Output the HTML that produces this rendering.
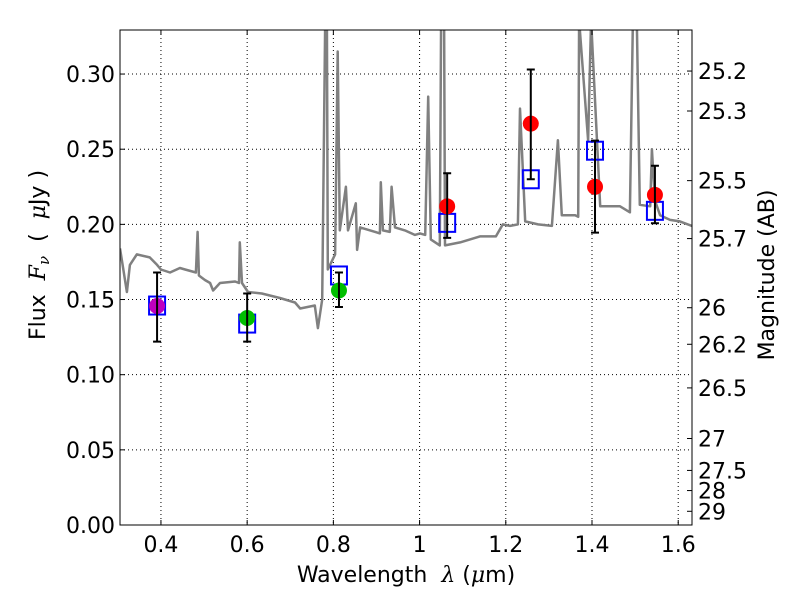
<!DOCTYPE html>
<html><head><meta charset="utf-8"><style>
body{margin:0;background:#fff;}
svg text{font-family:"DejaVu Sans","Liberation Sans",sans-serif;fill:#000;}
</style></head><body>
<svg id="chart" width="800" height="600" xmlns="http://www.w3.org/2000/svg">
<g id="grid"></g>
<g id="spec"></g>
<g id="pts"></g>
<g id="axes"></g>
</svg>
<script>
const specWave=[0.305,0.321,0.328,0.344,0.374,0.391,0.400,0.421,0.444,0.456,0.481,0.485,0.488,0.502,0.514,0.521,0.537,0.572,0.581,0.583,0.588,0.602,0.634,0.676,0.711,0.723,0.757,0.764,0.774,0.781,0.785,0.787,0.804,0.810,0.815,0.829,0.834,0.852,0.855,0.862,0.897,0.908,0.910,0.915,0.931,0.935,0.943,0.966,0.989,1.001,1.013,1.020,1.026,1.047,1.050,1.057,1.059,1.094,1.140,1.177,1.193,1.210,1.228,1.233,1.245,1.275,1.307,1.321,1.330,1.361,1.368,1.370,1.391,1.398,1.419,1.465,1.488,1.495,1.504,1.511,1.535,1.539,1.546,1.558,1.581,1.604,1.632];
const specFlux=[0.184,0.155,0.173,0.180,0.178,0.173,0.170,0.168,0.171,0.170,0.168,0.195,0.166,0.163,0.161,0.156,0.161,0.162,0.161,0.188,0.161,0.155,0.154,0.151,0.148,0.144,0.146,0.131,0.150,0.336,0.336,0.170,0.180,0.315,0.196,0.225,0.196,0.214,0.183,0.198,0.195,0.194,0.228,0.196,0.195,0.225,0.198,0.196,0.193,0.194,0.193,0.285,0.190,0.186,0.336,0.336,0.186,0.188,0.192,0.192,0.200,0.199,0.200,0.277,0.202,0.200,0.199,0.256,0.206,0.206,0.205,0.336,0.256,0.336,0.212,0.212,0.208,0.336,0.336,0.213,0.212,0.250,0.216,0.206,0.203,0.202,0.199];
const ptWave=[0.391,0.600,0.813,1.064,1.258,1.407,1.546];
const ptFlux=[0.1457,0.1377,0.156,0.212,0.267,0.225,0.2196];
const errLo=[0.122,0.122,0.145,0.191,0.230,0.1945,0.2007];
const errHi=[0.168,0.154,0.168,0.234,0.303,0.2557,0.239];
const modelFlux=[0.146,0.134,0.166,0.201,0.230,0.249,0.209];
const ptColors=['#bf00bf','#00bf00','#00bf00','#ff0000','#ff0000','#ff0000','#ff0000'];
const xTicks=[0.4,0.6,0.8,1.0,1.2,1.4,1.6];
const xTickLabels=['0.4','0.6','0.8','1','1.2','1.4','1.6'];
const yTicks=[0,0.05,0.10,0.15,0.20,0.25,0.30];
const yTickLabels=['0.00','0.05','0.10','0.15','0.20','0.25','0.30'];
const magTicks=[25.2,25.3,25.5,25.7,26,26.2,26.5,27,27.5,28,29];
const magTickLabels=['25.2','25.3','25.5','25.7','26','26.2','26.5','27','27.5','28','29'];

const L=120,R=692,T=30,B=525,X0=0.305,X1=1.632,Y0=0,Y1=0.3293;
const sx=v=>L+(v-X0)/(X1-X0)*(R-L);
const sy=v=>B-(v-Y0)/(Y1-Y0)*(B-T);
const NS='http://www.w3.org/2000/svg';
function mk(parent,tag,attrs){const e=document.createElementNS(NS,tag);for(const k in attrs)e.setAttribute(k,attrs[k]);document.getElementById(parent).appendChild(e);return e;}

xTicks.forEach((t,i)=>{
  const x=sx(t);
  let g=mk('grid','line',{x1:x,x2:x,y1:T,y2:B,stroke:'#000','stroke-width':1,'stroke-dasharray':'1,3'});
  
  
  mk('axes','line',{x1:x,x2:x,y1:B,y2:B-5,stroke:'#000'});
  mk('axes','line',{x1:x,x2:x,y1:T,y2:T+5,stroke:'#000'});
  let tx=mk('axes','text',{x:x,y:552,'font-size':22,'text-anchor':'middle'});
  tx.textContent=xTickLabels[i];
  
  
});
yTicks.forEach((t,i)=>{
  const y=sy(t);
  if(t>0){let g=mk('grid','line',{x1:L,x2:R,y1:y,y2:y,stroke:'#000','stroke-width':1,'stroke-dasharray':'1,3'});
  
  }
  mk('axes','line',{x1:L,x2:L+5,y1:y,y2:y,stroke:'#000'});
  let tx=mk('axes','text',{x:115,y:y+8,'font-size':22,'text-anchor':'end'});
  tx.textContent=yTickLabels[i];
  
  
});
magTicks.forEach((m,i)=>{
  const f=Math.pow(10,(23.9-m)/2.5);const y=sy(f);
  mk('axes','line',{x1:R,x2:R-5,y1:y,y2:y,stroke:'#000'});
  let tx=mk('axes','text',{x:698,y:y+8,'font-size':22});
  tx.textContent=magTickLabels[i];
  
  
});

let d='';specWave.forEach((w,i)=>{d+=(i?'L':'M')+sx(w).toFixed(1)+','+sy(specFlux[i]).toFixed(1);});
let cp=mk('spec','clipPath',{id:'clip'});
let cr=document.createElementNS(NS,'rect');cr.setAttribute('x',L);cr.setAttribute('y',T);cr.setAttribute('width',R-L);cr.setAttribute('height',B-T);cp.appendChild(cr);
let sp=mk('spec','path',{d:d,fill:'none',stroke:'#808080','stroke-width':2.5,'clip-path':'url(#clip)','stroke-linejoin':'round'});



ptWave.forEach((w,i)=>{
  const x=sx(w);
  let sq=mk('pts','rect',{x:x-8,y:sy(modelFlux[i])-9,width:16,height:18,fill:'none',stroke:'#0000ff','stroke-width':2});
  
  
  let c=mk('pts','circle',{cx:x,cy:sy(ptFlux[i]),r:8,fill:ptColors[i]});
  
  
  const y1=sy(errHi[i]),y2=sy(errLo[i]);
  let eb=mk('pts','path',{d:`M${x},${y1}L${x},${y2}M${x-4},${y1}L${x+4},${y1}M${x-4},${y2}L${x+4},${y2}`,stroke:'#000','stroke-width':2,fill:'none'});
  
  
});
let fr=mk('axes','rect',{x:L,y:T,width:R-L,height:B-T,fill:'none',stroke:'#000','stroke-width':1});


</script>
<svg width="800" height="600" style="position:absolute;left:0;top:0" xmlns="http://www.w3.org/2000/svg">
<text x="406" y="582" font-size="22" text-anchor="middle" font-family="DejaVu Sans, sans-serif" xml:space="preserve">Wavelength  <tspan font-style="italic" font-family="DejaVu Serif, serif">λ</tspan> (<tspan font-style="italic" font-family="DejaVu Serif, serif">μ</tspan>m)</text>
<text transform="translate(45,255) rotate(-90)" font-size="22" text-anchor="middle" font-family="DejaVu Sans, sans-serif" xml:space="preserve">Flux  <tspan font-style="italic" font-family="DejaVu Serif, serif">F<tspan font-size="15" dy="4">ν</tspan></tspan><tspan dy="-4">  (  </tspan><tspan font-style="italic" font-family="DejaVu Serif, serif">μ</tspan>Jy )</text>
<text transform="translate(774,275) rotate(-90)" font-size="22" text-anchor="middle" font-family="DejaVu Sans, sans-serif">Magnitude (AB)</text>
</svg>
</body></html>
